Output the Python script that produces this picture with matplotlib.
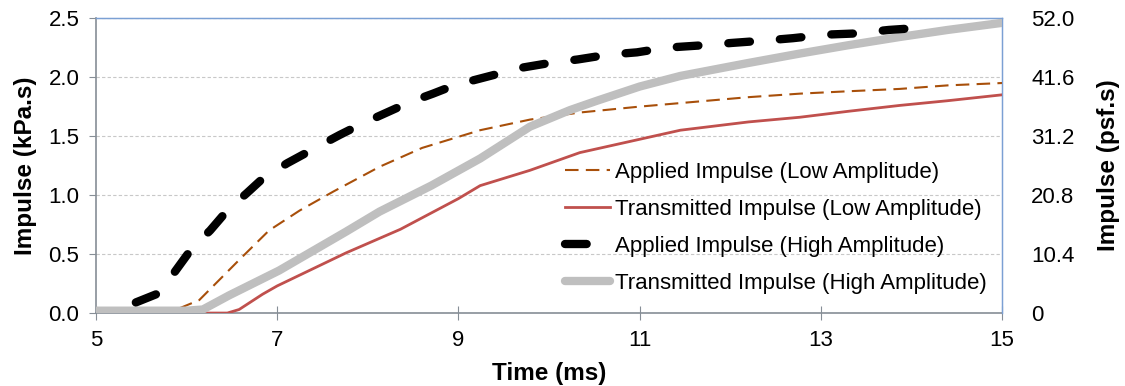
import matplotlib.pyplot as plt

plt.rcParams.update({
    "font.family": ["Liberation Sans", "DejaVu Sans"],
    "font.size": 16,
})

# Applied impulse, high amplitude (black)
t_app_hi = [5.44, 5.70, 5.88, 6.06, 6.26, 6.45, 6.67, 6.84, 7.11, 7.47, 7.69, 7.95,
            8.21, 8.47, 8.72, 9.02, 9.10, 9.40, 9.70, 10.01, 10.32, 10.65, 10.97, 11.30,
            11.70, 12.02, 12.38, 12.69, 13.05, 13.38, 13.75, 14.13]
i_app_hi = [0.09, 0.17, 0.36, 0.55, 0.70, 0.87, 1.02, 1.14, 1.27, 1.42, 1.51, 1.61,
            1.70, 1.79, 1.86, 1.95, 1.96, 2.02, 2.08, 2.12, 2.15, 2.19, 2.21, 2.25,
            2.27, 2.29, 2.31, 2.33, 2.36, 2.37, 2.40, 2.42]

# Transmitted impulse, high amplitude (gray)
t_tr_hi = [5.0, 5.5, 6.0, 6.18, 6.47, 7.02, 7.76, 8.13, 8.70, 9.24, 9.79, 10.23,
           10.53, 11.0, 11.45, 12.2, 12.77, 13.3, 13.87, 14.4, 15.0]
i_tr_hi = [0.02, 0.02, 0.02, 0.03, 0.15, 0.36, 0.69, 0.86, 1.08, 1.31, 1.58, 1.72,
           1.80, 1.92, 2.01, 2.12, 2.20, 2.27, 2.34, 2.40, 2.46]

# Applied impulse, low amplitude (brown dashed)
t_app_lo = [5.92, 6.14, 6.58, 6.91, 7.25, 7.62, 8.13, 8.6, 9.24, 9.79, 10.34,
            11.0, 11.45, 12.2, 12.77, 13.3, 13.87, 14.4, 15.0]
i_app_lo = [0.04, 0.11, 0.45, 0.70, 0.87, 1.03, 1.24, 1.40, 1.55, 1.64, 1.70,
            1.75, 1.78, 1.83, 1.86, 1.88, 1.90, 1.93, 1.95]

# Transmitted impulse, low amplitude (red)
t_tr_lo = [6.0, 6.45, 6.58, 6.84, 7.0, 7.76, 8.36, 9.0, 9.24, 9.79, 10.34, 11.45,
           12.2, 12.77, 13.3, 13.87, 14.4, 15.0]
i_tr_lo = [0.0, 0.0, 0.03, 0.16, 0.23, 0.51, 0.71, 0.97, 1.08, 1.21, 1.36, 1.55,
           1.62, 1.66, 1.71, 1.76, 1.80, 1.85]

x_ticks = [5, 7, 9, 11, 13, 15]
y_ticks = [0.0, 0.5, 1.0, 1.5, 2.0, 2.5]
y2_labels = ["0", "10.4", "20.8", "31.2", "41.6", "52.0"]

fig = plt.figure(figsize=(11.25, 3.86), dpi=100)
ax = fig.add_axes([0.0853, 0.189, 0.8054, 0.764])

ax.plot(t_app_lo, i_app_lo, color="#A84F0A", lw=1.5, dashes=(6.5, 3.5),
        label="Applied Impulse (Low Amplitude)", zorder=3)
ax.plot(t_tr_lo, i_tr_lo, color="#C0504D", lw=2.0,
        label="Transmitted Impulse (Low Amplitude)", zorder=3)
ax.plot(t_app_hi, i_app_hi, color="black", lw=6, dashes=(2.6, 3.6),
        dash_capstyle="round", label="Applied Impulse (High Amplitude)", zorder=5)
ax.plot(t_tr_hi, i_tr_hi, color="#BFBFBF", lw=6, solid_capstyle="round",
        label="Transmitted Impulse (High Amplitude)", zorder=4)

ax.set_xlim(5, 15)
ax.set_ylim(0, 2.5)
ax.set_xticks(x_ticks)
ax.set_yticks(y_ticks)
ax.set_yticklabels([f"{v:.1f}" for v in y_ticks])
ax.yaxis.grid(True, color="#C8C8C8", ls=(0, (3, 2)), lw=0.8)
ax.set_axisbelow(True)

for side in ["left", "bottom"]:
    ax.spines[side].set_color("#868E96")
    ax.spines[side].set_linewidth(1.2)
for side in ["top", "right"]:
    ax.spines[side].set_color("#7BA0D4")
    ax.spines[side].set_linewidth(1.0)
ax.tick_params(axis="x", direction="inout", length=10, color="#868E96", pad=7)
ax.tick_params(axis="y", direction="out", length=5, color="#868E96", pad=7)

ax.set_xlabel("Time (ms)", fontweight="bold", fontsize=17.5, labelpad=8)
ax.set_ylabel("Impulse (kPa.s)", fontweight="bold", fontsize=17.5, labelpad=8)

ax2 = ax.twinx()
ax2.set_ylim(0, 2.5)
ax2.set_yticks(y_ticks)
ax2.set_yticklabels(y2_labels)
ax2.tick_params(axis="y", length=0, pad=21)
ax2.spines["right"].set_color("#7BA0D4")
ax2.spines["top"].set_color("#7BA0D4")
ax2.spines["left"].set_visible(False)
ax2.spines["bottom"].set_visible(False)
ax2.set_ylabel("Impulse (psf.s)", fontweight="bold", fontsize=17.5, labelpad=16)

leg = ax.legend(loc="lower right", bbox_to_anchor=(0.998, 0.02), frameon=False,
                fontsize=16, handlelength=2.0, handletextpad=0.25,
                labelspacing=0.72, borderaxespad=0.2)
leg.set_zorder(10)

fig.savefig("out.png", dpi=100)
